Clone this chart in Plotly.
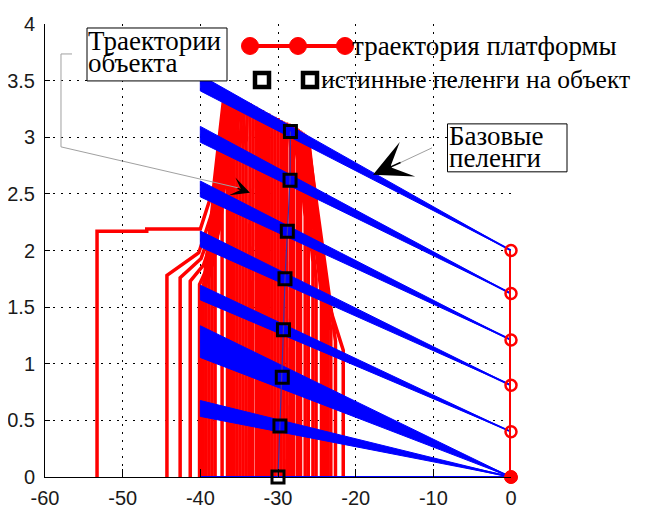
import plotly.graph_objects as go

W, H = 652, 510
OFF = 8  # page body margin: figure starts 8px from the window corner

# ---------------- data ----------------
X_TICKS = [-60, -50, -40, -30, -20, -10, 0]
X_TICK_LABELS = ['-60', '-50', '-40', '-30', '-20', '-10', '0']
Y_TICKS = [0, 0.5, 1, 1.5, 2, 2.5, 3, 3.5, 4]
Y_TICK_LABELS = ['0', '0.5', '1', '1.5', '2', '2.5', '3', '3.5', '4']

# platform trajectory (x = 0)
PLATFORM_X = [0.0, 0.0, 0.0, 0.0, 0.0, 0.0, 0.0, 0.0]
PLATFORM_Y = [0.0, 0.0, 0.0, 0.40, 0.81, 1.21, 1.62, 2.00]
PLATFORM_SYMBOL = ['circle', 'circle', 'circle', 'circle-open', 'circle-open',
                   'circle-open', 'circle-open', 'circle-open']

# true object positions (true bearings hit these)
TRUE_X = [-30.0, -29.75, -29.45, -29.3, -29.1, -28.8, -28.45, -28.4]
TRUE_Y = [0.0, 0.45, 0.88, 1.30, 1.75, 2.17, 2.62, 3.05]

# base bearings: fan from each platform point through the true point to x = -40
BEARING_END_X = -40.0
BEARING_SPREAD = [0.0, 0.07, 0.14, 0.065, 0.07, 0.07, 0.07, 0.07]

# hypothetical object trajectories
RED_TRAJ_X = [
    [-53.3, -53.3, -46.9, -46.9, -40.0, -38.3, -36.9],
    [-44.3, -44.3, -40.2, -38.4, -36.5],
    [-42.6, -42.6, -39.9, -38.0, -36.2],
    [-41.3, -41.3, -39.6, -37.7, -35.9],
    [-40.1, -40.1, -39.3, -37.5, -35.6],
    [-39.7, -39.7, -36.8],
    [-39.3, -39.3, -36.5],
    [-38.9, -38.9, -36.2],
    [-38.5, -38.5, -35.9],
    [-38.1, -38.1, -35.6],
    [-37.2, -37.2, -36.4],
    [-36.5, -36.5, -36.0],
    [-36.1, -36.1, -35.6],
    [-35.7, -35.7, -35.3],
    [-35.3, -35.3, -35.0],
    [-34.9, -34.9, -34.6],
    [-34.5, -34.5, -34.3],
    [-34.1, -34.1, -33.9],
    [-33.7, -33.7, -33.6],
    [-33.3, -33.3, -33.2],
    [-32.8, -32.8, -32.8],
    [-32.4, -32.4, -32.4],
    [-32.0, -32.0, -32.0],
    [-31.6, -31.6, -31.6],
    [-31.2, -31.2, -31.2],
    [-30.8, -30.8, -30.8],
    [-30.4, -30.4, -30.4],
    [-30.0, -30.0, -30.0],
    [-29.6, -29.6, -29.6],
    [-29.2, -29.2, -29.3],
    [-28.8, -28.8, -28.9],
    [-28.4, -28.4, -28.6],
    [-28.0, -28.0, -28.3],
    [-27.5, -27.5, -28.0],
    [-27.1, -27.1, -27.8],
    [-26.5, -26.5, -27.6],
    [-26.1, -26.1, -27.4],
    [-25.5, -25.5, -27.2],
    [-25.1, -25.1, -27.0],
    [-24.4, -24.4, -26.8],
    [-24.0, -24.0, -26.6],
    [-23.6, -23.6, -26.5],
    [-23.2, -23.2, -26.4],
    [-22.6, -22.6, -26.2],
    [-21.6, -21.6, -23.9, -26.0],
]
RED_TRAJ_Y = [
    [0, 2.17, 2.17, 2.19, 2.19, 2.55, 3.40],
    [0, 1.78, 1.98, 2.35, 3.38],
    [0, 1.76, 1.93, 2.30, 3.37],
    [0, 1.73, 1.87, 2.25, 3.36],
    [0, 1.70, 1.82, 2.20, 3.35],
    [0, 1.62, 3.40],
    [0, 1.68, 3.39],
    [0, 1.75, 3.38],
    [0, 1.85, 3.37],
    [0, 1.95, 3.36],
    [0, 2.40, 3.39],
    [0, 2.60, 3.38],
    [0, 2.70, 3.36],
    [0, 2.80, 3.35],
    [0, 2.85, 3.34],
    [0, 2.90, 3.33],
    [0, 2.90, 3.32],
    [0, 2.95, 3.31],
    [0, 3.00, 3.30],
    [0, 3.00, 3.28],
    [0, 3.00, 3.27],
    [0, 3.00, 3.25],
    [0, 3.00, 3.24],
    [0, 3.00, 3.22],
    [0, 3.00, 3.21],
    [0, 3.00, 3.19],
    [0, 3.00, 3.18],
    [0, 2.95, 3.17],
    [0, 2.95, 3.15],
    [0, 2.95, 3.14],
    [0, 2.90, 3.13],
    [0, 2.90, 3.12],
    [0, 2.90, 3.11],
    [0, 2.80, 3.10],
    [0, 2.55, 3.09],
    [0, 2.30, 3.08],
    [0, 2.10, 3.07],
    [0, 1.90, 3.06],
    [0, 1.75, 3.05],
    [0, 1.60, 3.04],
    [0, 1.50, 3.03],
    [0, 1.40, 3.02],
    [0, 1.30, 3.01],
    [0, 1.20, 3.00],
    [0, 1.12, 1.62, 2.95],
]

LEGEND_LABELS = ['траектория платформы', 'истинные пеленги на объект']
NOTE_TRAJ = ['Траектории', 'объекта']
NOTE_BEAR = ['Базовые', 'пеленги']

RED = '#FF0000'
BLUE = '#0000FF'
SERIF = 'Liberation Serif, Times New Roman, serif'
SANS = 'Liberation Sans, Arial, sans-serif'
TXT = 27

# plot frame in window pixels
PL, PR, PT, PB = 45, 511, 24, 477.5


def px(x):
    return (x - PL) / (PR - PL)


def py(y):
    return (PB - y) / (PB - PT)


fig = go.Figure()

# red trajectories
rx, ry = [], []
for xs, ys in zip(RED_TRAJ_X, RED_TRAJ_Y):
    rx += xs + [None]
    ry += ys + [None]
fig.add_trace(go.Scatter(x=rx, y=ry, mode='lines',
                         line=dict(color=RED, width=3.5), hoverinfo='skip'))

# base bearings
for p_x, p_y, t_x, t_y, s in zip(PLATFORM_X, PLATFORM_Y, TRUE_X, TRUE_Y, BEARING_SPREAD):
    slope = (t_y - p_y) / (t_x - p_x)
    ye = p_y + slope * (BEARING_END_X - p_x)
    if s > 0:
        fig.add_trace(go.Scatter(x=[p_x, BEARING_END_X, BEARING_END_X, p_x],
                                 y=[p_y, ye - s, ye + s, p_y], mode='lines',
                                 fill='toself', fillcolor=BLUE,
                                 line=dict(color=BLUE, width=1), hoverinfo='skip'))
    fig.add_trace(go.Scatter(x=[p_x, BEARING_END_X], y=[p_y, ye], mode='lines',
                             line=dict(color=BLUE, width=2), hoverinfo='skip',
                             cliponaxis=False))

# true track and true bearing points
fig.add_trace(go.Scatter(x=TRUE_X, y=TRUE_Y, mode='lines',
                         line=dict(color='#4030A8', width=1.2), hoverinfo='skip'))
fig.add_trace(go.Scatter(x=TRUE_X, y=TRUE_Y, mode='markers', cliponaxis=False,
                         marker=dict(symbol='square-open', size=12, color='black',
                                     line=dict(width=3, color='black')),
                         hoverinfo='skip'))

# platform trajectory
fig.add_trace(go.Scatter(x=PLATFORM_X, y=PLATFORM_Y, mode='lines+markers',
                         cliponaxis=False,
                         line=dict(color=RED, width=4),
                         marker=dict(symbol=PLATFORM_SYMBOL, size=11, color=RED,
                                     line=dict(width=2.5, color=RED)),
                         hoverinfo='skip'))

shapes = []
annotations = []

# legend samples
shapes.append(dict(type='line', xref='paper', yref='paper',
                   x0=px(245), x1=px(345), y0=py(46), y1=py(46),
                   line=dict(color=RED, width=4)))
for cx in (250, 298, 345):
    r = 8.5
    shapes.append(dict(type='circle', xref='paper', yref='paper',
                       x0=px(cx - r), x1=px(cx + r), y0=py(46 + r), y1=py(46 - r),
                       fillcolor=RED, line=dict(color=RED, width=1)))
for cx in (262, 310):
    r = 7
    shapes.append(dict(type='rect', xref='paper', yref='paper',
                       x0=px(cx - r), x1=px(cx + r), y0=py(80 + r), y1=py(80 - r),
                       fillcolor='white', line=dict(color='black', width=4.5)))
annotations.append(dict(xref='paper', yref='paper', x=px(350), y=py(46),
                        text=LEGEND_LABELS[0], showarrow=False, xanchor='left',
                        yanchor='middle', font=dict(family=SERIF, size=TXT, color='black')))
annotations.append(dict(xref='paper', yref='paper', x=px(319), y=py(80),
                        text=LEGEND_LABELS[1], showarrow=False, xanchor='left',
                        yanchor='middle', font=dict(family=SERIF, size=25.5, color='black')))

# note boxes
shapes.append(dict(type='rect', xref='paper', yref='paper',
                   x0=px(87), x1=px(227), y0=py(81), y1=py(28),
                   fillcolor='white', line=dict(color='black', width=1)))
shapes.append(dict(type='rect', xref='paper', yref='paper',
                   x0=px(447.5), x1=px(567), y0=py(172), y1=py(124),
                   fillcolor='white', line=dict(color='black', width=1)))
for txt, yy in zip(NOTE_TRAJ, (41, 63)):
    annotations.append(dict(xref='paper', yref='paper', x=px(86), y=py(yy), text=txt,
                            showarrow=False, xanchor='left', yanchor='middle',
                            font=dict(family=SERIF, size=TXT, color='black')))
for txt, yy in zip(NOTE_BEAR, (136, 158)):
    annotations.append(dict(xref='paper', yref='paper', x=px(447), y=py(yy), text=txt,
                            showarrow=False, xanchor='left', yanchor='middle',
                            font=dict(family=SERIF, size=TXT, color='black')))

# leader lines
def path(pts):
    return 'M ' + ' L '.join(f'{px(a):.5f},{py(b):.5f}' for a, b in pts)

shapes.append(dict(type='path', xref='paper', yref='paper',
                   path=path([(72, 54), (61, 54), (61, 147), (238, 188)]),
                   line=dict(color='#A0A0A0', width=1)))
shapes.append(dict(type='path', xref='paper', yref='paper',
                   path=path([(432, 148), (400, 163)]),
                   line=dict(color='#A0A0A0', width=1)))
annotations.append(dict(xref='paper', yref='paper', x=px(250), y=py(193), text='',
                        showarrow=True, ax=-14, ay=-5, arrowhead=3, arrowsize=2.1,
                        arrowwidth=1.5, arrowcolor='black', standoff=0))
annotations.append(dict(xref='paper', yref='paper', x=px(373), y=py(175), text='',
                        showarrow=True, ax=29, ay=-13, arrowhead=3, arrowsize=4.2,
                        arrowwidth=1.5, arrowcolor='black', standoff=0))

axis_common = dict(ticks='inside', tickcolor='black', showline=True, linecolor='black',
                   linewidth=1, showgrid=True, gridcolor='black', griddash='2px,6px',
                   gridwidth=1, zeroline=False, automargin=False,
                   tickfont=dict(family=SANS, size=20, color='#1a1a1a'))

fig.update_layout(
    width=W, height=H,
    margin=dict(l=PL - OFF, r=W - PR + OFF, t=PT - OFF, b=H - PB + OFF,
                autoexpand=False),
    paper_bgcolor='white', plot_bgcolor='white', showlegend=False,
    xaxis=dict(range=[-60, 0], tickvals=X_TICKS,
               ticktext=X_TICK_LABELS, ticklen=8, ticklabelstandoff=3, **axis_common),
    yaxis=dict(range=[0, 4], tickvals=Y_TICKS,
               ticktext=Y_TICK_LABELS, ticklen=5, ticklabelstandoff=5, **axis_common),
    shapes=shapes, annotations=annotations,
)

fig.write_html('out.html')
